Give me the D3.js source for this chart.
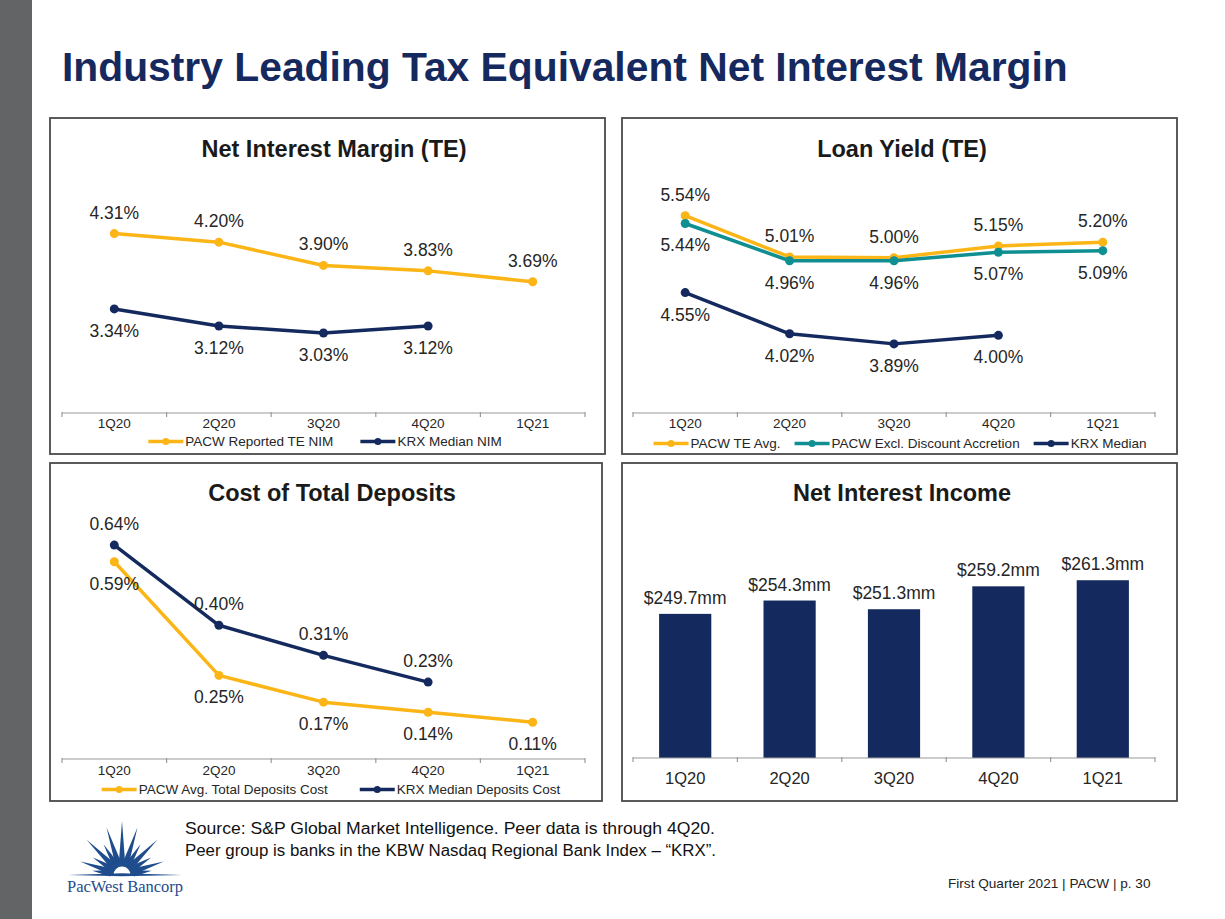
<!DOCTYPE html>
<html>
<head>
<meta charset="utf-8">
<script src="https://cdn.jsdelivr.net/npm/d3@7"></script>
<style>
  html, body { margin: 0; padding: 0; background: #ffffff; }
  svg { display: block; font-family: "Liberation Sans", Arial, sans-serif; }
</style>
</head>
<body>
<svg id="chart" width="1225" height="919"></svg>
<script>
// ---------------- DATA ----------------
const categories = ["1Q20", "2Q20", "3Q20", "4Q20", "1Q21"];

const nimPacw = [4.31, 4.20, 3.90, 3.83, 3.69];
const nimKrx  = [3.34, 3.12, 3.03, 3.12];

const loanPacwAvg  = [5.54, 5.01, 5.00, 5.15, 5.20];
const loanPacwExcl = [5.44, 4.96, 4.96, 5.07, 5.09];
const loanKrx      = [4.55, 4.02, 3.89, 4.00];

const depPacw = [0.59, 0.25, 0.17, 0.14, 0.11];
const depKrx  = [0.64, 0.40, 0.31, 0.23];

const niiValues = [249.7, 254.3, 251.3, 259.2, 261.3];

const legendNim  = ["PACW Reported TE NIM", "KRX Median NIM"];
const legendLoan = ["PACW TE Avg.", "PACW Excl. Discount Accretion", "KRX Median"];
const legendDep  = ["PACW Avg. Total Deposits Cost", "KRX Median Deposits Cost"];

// ---------------- STYLE ----------------
const GOLD = "#fbb516", TEAL = "#108f93", NAVY = "#142a5e", TEXT = "#262626";

const svg = d3.select("#chart");

// side bar
svg.append("rect").attr("x", 0).attr("y", 0).attr("width", 32).attr("height", 919).attr("fill", "#636466");

// main title
svg.append("text").attr("x", 62).attr("y", 81)
  .attr("font-size", 40.8).attr("font-weight", "bold").attr("fill", "#15295e")
  .text("Industry Leading Tax Equivalent Net Interest Margin");

// panels
const panels = [
  {x: 50, y: 118, w: 555, h: 336, title: "Net Interest Margin (TE)", tx: 334, ty: 157},
  {x: 622, y: 118, w: 555, h: 336, title: "Loan Yield (TE)", tx: 902, ty: 157},
  {x: 50, y: 463, w: 552, h: 338, title: "Cost of Total Deposits", tx: 332, ty: 501},
  {x: 622, y: 463, w: 555, h: 338, title: "Net Interest Income", tx: 902, ty: 501}
];
panels.forEach(p => {
  svg.append("rect").attr("x", p.x).attr("y", p.y).attr("width", p.w).attr("height", p.h)
    .attr("fill", "#fff").attr("stroke", "#4a4a4a").attr("stroke-width", 1.8);
  svg.append("text").attr("x", p.tx).attr("y", p.ty).attr("text-anchor", "middle")
    .attr("font-size", 23.5).attr("font-weight", "bold").attr("fill", "#1a1a1a").text(p.title);
});

// ---------------- helpers ----------------
function drawAxis(x, axisY, tickLabelY, fontSize) {
  const step = x.step();
  const r = x.range();
  const g = svg.append("g");
  g.append("line").attr("x1", r[0]).attr("x2", r[1]).attr("y1", axisY).attr("y2", axisY)
    .attr("stroke", "#9a9a9a").attr("stroke-width", 1.2);
  d3.range(categories.length + 1).forEach(i => {
    const tx = r[0] + i * step;
    g.append("line").attr("x1", tx).attr("x2", tx).attr("y1", axisY - 1).attr("y2", axisY + 4)
      .attr("stroke", "#9a9a9a").attr("stroke-width", 1.2);
  });
  categories.forEach((c, i) => {
    g.append("text").attr("x", r[0] + (i + 0.5) * step).attr("y", tickLabelY)
      .attr("text-anchor", "middle").attr("font-size", fontSize).attr("fill", TEXT).text(c);
  });
}

function drawLegend(items, centerX, y, gapItem) {
  const g = svg.append("g");
  const sampleW = 35, gapText = 2, fs = 13.5;
  let cur = 0;
  const parts = [];
  items.forEach(it => {
    const t = g.append("text").attr("y", y).attr("font-size", fs).attr("fill", TEXT).text(it.name);
    const w = t.node().getComputedTextLength();
    parts.push({it, t, start: cur, w});
    cur += sampleW + gapText + w + gapItem;
  });
  const total = cur - gapItem;
  const x0 = centerX - total / 2;
  parts.forEach(p => {
    const sx = x0 + p.start;
    g.append("line").attr("x1", sx).attr("x2", sx + sampleW).attr("y1", y - 4.5).attr("y2", y - 4.5)
      .attr("stroke", p.it.color).attr("stroke-width", 3.5);
    g.append("circle").attr("cx", sx + sampleW / 2).attr("cy", y - 4.5).attr("r", 3.5).attr("fill", p.it.color);
    p.t.attr("x", sx + sampleW + gapText);
  });
}

function drawLines(x, y, series) {
  const bw = x.bandwidth();
  series.forEach(s => {
    const pts = s.values.map((v, i) => ({cx: x(categories[i]) + bw / 2, cy: y(v), v}));
    const line = d3.line().x(d => d.cx).y(d => d.cy);
    svg.append("path").datum(pts).attr("d", line).attr("fill", "none")
      .attr("stroke", s.color).attr("stroke-width", 3.5).attr("stroke-linejoin", "round");
    svg.append("g").selectAll("circle").data(pts).join("circle")
      .attr("cx", d => d.cx).attr("cy", d => d.cy).attr("r", 4.5).attr("fill", s.color);
  });
  series.forEach(s => {
    const pts = s.values.map((v, i) => ({cx: x(categories[i]) + bw / 2, cy: y(v), v}));
    svg.append("g").selectAll("text").data(pts).join("text")
      .attr("x", d => d.cx)
      .attr("y", d => s.label === "above" ? d.cy - 15 : d.cy + 28)
      .attr("text-anchor", "middle").attr("font-size", 17.5).attr("fill", TEXT)
      .text(d => d.v.toFixed(2) + "%");
  });
}

// ---------------- Panel 1: NIM ----------------
{
  const x = d3.scaleBand().domain(categories).range([62, 585]);
  const y = d3.scaleLinear().domain([2, 5]).range([413, 180]);
  drawAxis(x, 413, 428, 13.5);
  drawLines(x, y, [
    {values: nimPacw, color: GOLD, label: "above"},
    {values: nimKrx, color: NAVY, label: "below"}
  ]);
  drawLegend([{name: legendNim[0], color: GOLD}, {name: legendNim[1], color: NAVY}], 325, 446, 27);
}

// ---------------- Panel 2: Loan Yield ----------------
{
  const x = d3.scaleBand().domain(categories).range([633, 1155]);
  const y = d3.scaleLinear().domain([3, 6]).range([413, 180]);
  drawAxis(x, 413, 428, 13.5);
  drawLines(x, y, [
    {values: loanPacwAvg, color: GOLD, label: "above"},
    {values: loanPacwExcl, color: TEAL, label: "below"},
    {values: loanKrx, color: NAVY, label: "below"}
  ]);
  drawLegend([{name: legendLoan[0], color: GOLD}, {name: legendLoan[1], color: TEAL},
              {name: legendLoan[2], color: NAVY}], 900, 448, 14);
}

// ---------------- Panel 3: Deposits ----------------
{
  const x = d3.scaleBand().domain(categories).range([62, 585]);
  const y = d3.scaleLinear().domain([0, 0.7]).range([759, 525]);
  drawAxis(x, 759, 775, 13.5);
  drawLines(x, y, [
    {values: depPacw, color: GOLD, label: "below"},
    {values: depKrx, color: NAVY, label: "above"}
  ]);
  drawLegend([{name: legendDep[0], color: GOLD}, {name: legendDep[1], color: NAVY}], 331, 794, 32);
}

// ---------------- Panel 4: NII bars ----------------
{
  const x = d3.scaleBand().domain(categories).range([633, 1155]).paddingInner(0.5).paddingOuter(0.25);
  const y = d3.scaleLinear().domain([200, 280]).range([758, 526]);
  svg.append("g").selectAll("rect").data(niiValues).join("rect")
    .attr("x", (d, i) => x(categories[i])).attr("y", d => y(d))
    .attr("width", x.bandwidth()).attr("height", d => y(200) - y(d)).attr("fill", NAVY);
  svg.append("g").selectAll("text").data(niiValues).join("text")
    .attr("x", (d, i) => x(categories[i]) + x.bandwidth() / 2).attr("y", d => y(d) - 10)
    .attr("text-anchor", "middle").attr("font-size", 17.5).attr("fill", TEXT)
    .text(d => "$" + d.toFixed(1) + "mm");
  const xa = d3.scaleBand().domain(categories).range([633, 1155]);
  drawAxis(xa, 758, 784, 16.5);
}

// ---------------- Footer ----------------
svg.append("text").attr("x", 185).attr("y", 834).attr("font-size", 17.3).attr("fill", "#111")
  .attr("textLength", 530).attr("lengthAdjust", "spacingAndGlyphs")
  .text("Source: S&P Global Market Intelligence. Peer data is through 4Q20.");
svg.append("text").attr("x", 185).attr("y", 856).attr("font-size", 17.3).attr("fill", "#111")
  .attr("textLength", 531).attr("lengthAdjust", "spacingAndGlyphs")
  .text("Peer group is banks in the KBW Nasdaq Regional Bank Index \u2013 \u201CKRX\u201D.");
svg.append("text").attr("x", 948).attr("y", 888).attr("font-size", 13.6).attr("fill", "#222")
  .text("First Quarter 2021 | PACW | p. 30");

// ---------------- Logo ----------------
{
  const LOGO = "#1f4c8c";
  const cx = 122, cy = 875;
  const rays = [
    [90, 54], [108, 50], [72, 50], [121, 36], [59, 36], [135, 50], [45, 50],
    [149, 34], [31, 34], [162, 44], [18, 44], [172, 30], [8, 30]
  ];
  const g = svg.append("g");
  rays.forEach(([a, L]) => {
    const rad = a * Math.PI / 180;
    const r0 = 12, hw = 0.27;
    const p = [
      [cx + r0 * Math.cos(rad - hw), cy - r0 * Math.sin(rad - hw)],
      [cx + L * Math.cos(rad), cy - L * Math.sin(rad)],
      [cx + r0 * Math.cos(rad + hw), cy - r0 * Math.sin(rad + hw)]
    ];
    g.append("path").attr("d", "M" + p.map(q => q.join(",")).join("L") + "Z").attr("fill", LOGO);
  });
  g.append("path").attr("d", d3.arc()({innerRadius: 8.5, outerRadius: 15, startAngle: -Math.PI / 2, endAngle: Math.PI / 2}))
    .attr("transform", `translate(${cx},${cy})`).attr("fill", LOGO);
  g.append("path").attr("d", `M68,${cy} L${cx},${cy - 1.8} L182,${cy} L${cx},${cy + 1.2} Z`).attr("fill", LOGO);
  g.append("text").attr("x", 67).attr("y", 892).attr("font-family", "'Liberation Serif', 'Times New Roman', serif")
    .attr("font-size", 16.5).attr("fill", LOGO).attr("textLength", 116).text("PacWest Bancorp");
}
</script>
</body>
</html>
